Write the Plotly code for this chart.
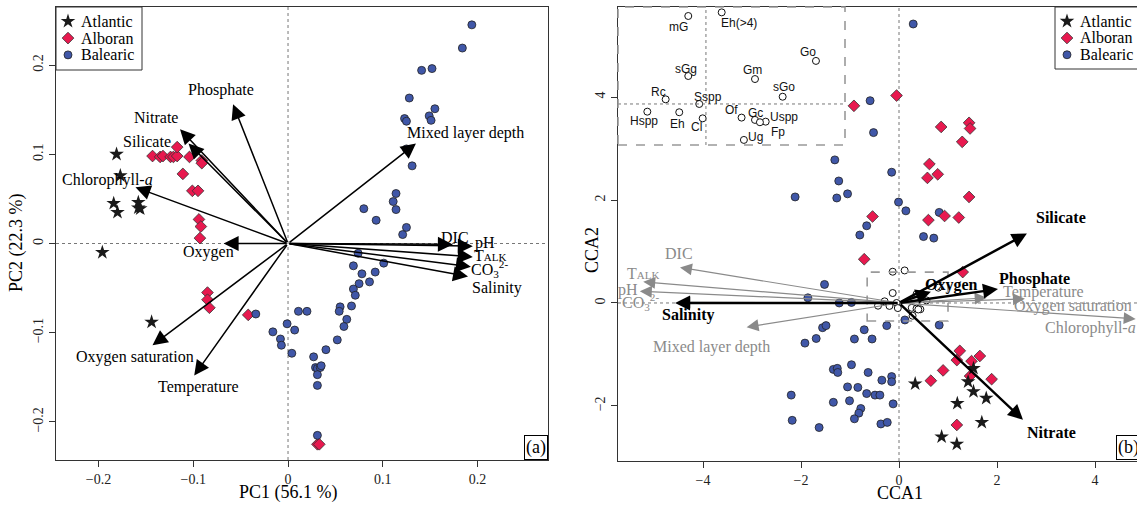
import plotly.graph_objects as go

W, H = 1137, 508
SERIF = "Liberation Serif"
SANS = "Liberation Sans"

# ---------------- Panel (a): PCA ----------------
atl_a_x = [-0.181, -0.177, -0.184, -0.180, -0.158, -0.158, -0.156, -0.196, -0.144]
atl_a_y = [0.100, 0.076, 0.045, 0.035, 0.046, 0.040, 0.039, -0.010, -0.088]

alb_a_x = [-0.143, -0.135, -0.132, -0.124, -0.121, -0.117, -0.117, -0.104, -0.091, -0.091,
           -0.111, -0.101, -0.095, -0.094, -0.092, -0.093, -0.085, -0.085, -0.083, -0.042,
           0.031, 0.033]
alb_a_y = [0.098, 0.097, 0.098, 0.097, 0.097, 0.098, 0.108, 0.097, 0.093, 0.090,
           0.078, 0.059, 0.059, 0.027, 0.019, 0.006, -0.055, -0.063, -0.072, -0.080,
           -0.225, -0.225]

bal_a_x = [0.194, 0.184, 0.141, 0.152, 0.128, 0.155, 0.123, 0.125, 0.149, 0.151,
           0.125, 0.131, 0.114, 0.111, 0.114, 0.080, 0.093, 0.125, 0.121,
           0.074, 0.069, 0.078, 0.092, 0.101, 0.075, 0.086, 0.069, 0.071, 0.067,
           0.055, 0.054, 0.062, 0.059, 0.011, 0.020, -0.001, 0.007, -0.008, -0.007,
           0.004, 0.052, 0.040, 0.027, 0.029, 0.031, 0.034, 0.035, 0.031, 0.031,
           0.031, -0.034, -0.016]
bal_a_y = [0.245, 0.219, 0.194, 0.196, 0.163, 0.151, 0.140, 0.137, 0.143, 0.138,
           0.106, 0.087, 0.056, 0.047, 0.038, 0.039, 0.026, 0.018, 0.010,
           -0.011, -0.025, -0.034, -0.032, -0.022, -0.045, -0.043, -0.051, -0.058, -0.070,
           -0.071, -0.076, -0.085, -0.093, -0.076, -0.076, -0.090, -0.097, -0.107, -0.114,
           -0.123, -0.108, -0.119, -0.127, -0.139, -0.140, -0.139, -0.137, -0.147, -0.159,
           -0.215, -0.079, -0.099]

pca_vars = ["Phosphate", "Nitrate", "Silicate", "Chlorophyll-<i>a</i>", "Oxygen",
            "Oxygen saturation", "Temperature", "Mixed layer depth", "DIC", "pH",
            "T<span style='font-size:11px'>ALK</span>", "CO<sub>3</sub><sup>2-</sup>", "Salinity"]
pca_tip_x = [-0.058, -0.114, -0.105, -0.161, -0.068, -0.143, -0.099, 0.135, 0.174, 0.195, 0.195, 0.193, 0.190]
pca_tip_y = [0.156, 0.128, 0.112, 0.063, 0.000, -0.114, -0.148, 0.112, -0.001, -0.003, -0.015, -0.026, -0.037]
pca_lab_x = [-0.071, -0.139, -0.149, -0.191, -0.084, -0.161, -0.095, 0.187, 0.176, 0.208, 0.213, 0.213, 0.221]
pca_lab_y = [0.172, 0.141, 0.114, 0.071, -0.010, -0.127, -0.161, 0.124, 0.007, 0.001, -0.013, -0.029, -0.050]

# ---------------- Panel (b): CCA ----------------
atl_b_x = [0.33, 1.19, 0.87, 1.18, 1.41, 1.52, 1.52, 1.78, 1.69]
atl_b_y = [-1.57, -1.95, -2.60, -2.74, -1.53, -1.27, -1.72, -1.85, -2.32]

alb_b_x = [-0.05, 0.86, 1.43, 1.45, 1.29, 0.62, 0.58, 0.79, 1.43, -0.54, 0.60, 0.93, 1.22,
           -0.92, -0.71, 1.30, 1.24, 1.18, 1.48, 1.65, 0.90, 0.65, 1.45, 1.89, 1.18]
alb_b_y = [4.03, 3.42, 3.50, 3.39, 3.13, 2.70, 2.43, 2.50, 2.06, 1.68, 1.61, 1.69, 1.66,
           3.83, 0.85, 0.60, -0.93, -1.11, -1.13, -1.03, -1.31, -1.51, -1.42, -1.48, -2.37]

bal_b_x = [0.29, -0.59, -0.52, -1.31, -1.23, -2.12, -1.27, -1.05, -0.15, -0.01, 0.14, 0.82,
           -0.66, -0.80, 0.50, 0.71, -1.52, -1.86, -1.22, -0.97, -1.56, -1.49, -1.69, -1.92,
           -0.91, -0.71, -0.55, 0.12, -0.25, 0.82, -0.63, -0.35, -0.15, -0.15, -0.66, -0.49,
           -0.39, -0.12, -0.37, -0.24, -2.20, -2.18, -1.63, -1.34, -1.26, -1.25, -0.97, -1.05,
           -0.84, -1.34, -1.01, -0.78, -0.82, -0.91]
bal_b_y = [5.42, 3.93, 3.31, 2.78, 2.37, 2.06, 2.04, 2.12, 2.54, 1.96, 1.79, 1.76,
           1.50, 1.32, 1.29, 1.26, 0.36, 0.10, 0.00, 0.01, -0.48, -0.44, -0.69, -0.78,
           -0.70, -0.52, -0.70, -0.33, -0.44, -0.43, -1.35, -1.50, -1.43, -1.53, -1.76, -1.79,
           -1.79, -1.96, -2.35, -2.32, -1.79, -2.28, -2.42, -1.29, -1.27, -1.35, -1.20, -1.63,
           -1.64, -1.93, -1.90, -2.05, -2.14, -2.25]

species = ["mG", "Eh(>4)", "Go", "sGg", "Gm", "sGo", "Rc", "Sspp", "Hspp", "Eh", "Cl",
           "Of", "Gc", "Uspp", "Fp", "Ug"]
sp_x = [-0.129, 0.115, 0.803, -0.129, 0.358, 0.560, -0.294, -0.049, -0.428, -0.195, -0.024,
        0.260, 0.358, 0.436, 0.394, 0.277]
sp_y = [0.607, 0.632, 0.297, 0.193, 0.172, 0.050, 0.032, 0.000, -0.053, -0.057, -0.099,
        -0.094, -0.110, -0.122, -0.126, -0.248]
sp_lab_x = [-0.202, 0.241, 0.745, -0.146, 0.343, 0.569, -0.343, 0.012, -0.453, -0.207, -0.066,
            0.188, 0.363, 0.569, 0.523, 0.365]
sp_lab_y = [0.533, 0.559, 0.359, 0.241, 0.234, 0.117, 0.083, 0.050, -0.115, -0.140, -0.161,
            -0.041, -0.060, -0.092, -0.191, -0.226]

# gray (non-significant) environmental vectors
cca_gray = ["DIC", "T<span style='font-size:11px'>ALK</span>", "pH", "CO<sub>3</sub><sup>2-</sup>",
            "Mixed layer depth", "Temperature", "Oxygen saturation", "Chlorophyll-<i>a</i>"]
cca_gray_tip_x = [-4.47, -5.22, -5.29, -4.50, -3.11, 1.79, 2.57, 4.83]
cca_gray_tip_y = [0.69, 0.41, 0.23, 0.01, -0.47, 0.10, 0.08, -0.31]
cca_gray_lab_x = [-4.49, -5.22, -5.53, -5.27, -3.82, 2.94, 3.55, 3.90]
cca_gray_lab_y = [0.97, 0.58, 0.25, 0.02, -0.85, 0.21, -0.06, -0.49]

# black (significant) environmental vectors
cca_black = ["Silicate", "Phosphate", "Oxygen", "Nitrate", "Salinity"]
cca_black_tip_x = [2.61, 2.02, 0.65, 2.53, -4.57]
cca_black_tip_y = [1.35, 0.27, 0.22, -2.27, 0.00]
cca_black_lab_x = [3.31, 2.76, 1.08, 3.12, -4.31]
cca_black_lab_y = [1.67, 0.47, 0.35, -2.52, -0.23]

regions = ["Atlantic", "Alboran", "Balearic"]

# ---------------- styles ----------------
atl_m = dict(symbol="star", size=11, color="#1a1a1a", line=dict(width=0))
alb_m = dict(symbol="diamond", size=9, color="#E8194F", line=dict(width=0.8, color="#333333"))
bal_m = dict(symbol="circle", size=8, color="#4057A8", line=dict(width=0.8, color="#222222"))
sp_m = dict(symbol="circle", size=7, color="white", line=dict(width=1, color="#111111"))
reg_m = [atl_m, alb_m, bal_m]

fig = go.Figure()

# panel a points
fig.add_trace(go.Scatter(x=atl_a_x, y=atl_a_y, mode="markers", marker=atl_m, name="Atlantic",
                         xaxis="x", yaxis="y", showlegend=False))
fig.add_trace(go.Scatter(x=alb_a_x, y=alb_a_y, mode="markers", marker=alb_m, name="Alboran",
                         xaxis="x", yaxis="y", showlegend=False))
fig.add_trace(go.Scatter(x=bal_a_x, y=bal_a_y, mode="markers", marker=bal_m, name="Balearic",
                         xaxis="x", yaxis="y", showlegend=False))

# panel b points
fig.add_trace(go.Scatter(x=bal_b_x, y=bal_b_y, mode="markers", marker=bal_m, name="Balearic",
                         xaxis="x2", yaxis="y2", showlegend=False))
fig.add_trace(go.Scatter(x=alb_b_x, y=alb_b_y, mode="markers", marker=alb_m, name="Alboran",
                         xaxis="x2", yaxis="y2", showlegend=False))
fig.add_trace(go.Scatter(x=atl_b_x, y=atl_b_y, mode="markers", marker=atl_m, name="Atlantic",
                         xaxis="x2", yaxis="y2", showlegend=False))
# species near origin (main scale)
fig.add_trace(go.Scatter(x=sp_x, y=sp_y, mode="markers", marker=sp_m, showlegend=False,
                         xaxis="x2", yaxis="y2"))
# species in inset (magnified)
fig.add_trace(go.Scatter(x=sp_x, y=sp_y, mode="markers", marker=sp_m, showlegend=False,
                         xaxis="x3", yaxis="y3"))

# manual legends (key axes: one row per region)
for xa, ya in [("x4", "y4"), ("x5", "y5")]:
    for i, nm in enumerate(regions):
        fig.add_trace(go.Scatter(x=[0], y=[i], mode="markers", marker=reg_m[i], showlegend=False,
                                 xaxis=xa, yaxis=ya))

ann = []
shapes = []

def arrow(x, y, xr, yr, color, width, size):
    return dict(x=x, y=y, ax=0, ay=0, xref=xr, yref=yr, axref=xr, ayref=yr, text="",
                showarrow=True, arrowhead=2, arrowsize=size, arrowwidth=width,
                arrowcolor=color, standoff=0, startstandoff=0)

def label(t, x, y, xr, yr, color="black", size=16, family=SERIF, bold=False, xanchor="center"):
    txt = "<b>%s</b>" % t if bold else t
    return dict(x=x, y=y, xref=xr, yref=yr, text=txt, showarrow=False,
                font=dict(family=family, size=size, color=color), xanchor=xanchor, yanchor="middle")

for i, v in enumerate(pca_vars):
    ann.append(arrow(pca_tip_x[i], pca_tip_y[i], "x", "y", "black", 1.5, 2.0))
    ann.append(label(v, pca_lab_x[i], pca_lab_y[i], "x", "y"))

for i, v in enumerate(cca_gray):
    ann.append(arrow(cca_gray_tip_x[i], cca_gray_tip_y[i], "x2", "y2", "#8a8a8a", 1.2, 2.0))
    ann.append(label(v, cca_gray_lab_x[i], cca_gray_lab_y[i], "x2", "y2", color="#8a8a8a"))
for i, v in enumerate(cca_black):
    ann.append(arrow(cca_black_tip_x[i], cca_black_tip_y[i], "x2", "y2", "black", 2.5, 1.2))
    ann.append(label(v, cca_black_lab_x[i], cca_black_lab_y[i], "x2", "y2", bold=True))

for i, s in enumerate(species):
    ann.append(label(s, sp_lab_x[i], sp_lab_y[i], "x3", "y3", size=12, family=SANS, color="#111111"))

# legend texts
for xa, ya in [("x4", "y4"), ("x5", "y5")]:
    for i, nm in enumerate(regions):
        ann.append(label(nm, 0.55, i, xa, ya, xanchor="left"))

# panel tags
ann.append(dict(x=548 / W, y=1 - 460 / H, xref="paper", yref="paper", xanchor="right", yanchor="bottom",
                text="(a)", showarrow=False, bordercolor="black", borderwidth=1, borderpad=1,
                bgcolor="white", font=dict(family=SERIF, size=18, color="black")))
ann.append(dict(x=1116 / W, y=1 - 460 / H, xref="paper", yref="paper", xanchor="left", yanchor="bottom",
                text="(b)", showarrow=False, bordercolor="black", borderwidth=1, borderpad=1,
                bgcolor="white", font=dict(family=SERIF, size=18, color="black")))

# axis titles
tf = dict(family=SERIF, size=18, color="black")
def title(t, px, py, angle=0):
    return dict(x=px / W, y=1 - py / H, xref="paper", yref="paper", text=t, showarrow=False,
                font=tf, textangle=angle, xanchor="center", yanchor="middle")
ann.append(title("PC1 (56.1 %)", 288, 492))
ann.append(title("PC2 (22.3 %)", 16, 243, -90))
ann.append(title("CCA1", 900, 493))
ann.append(title("CCA2", 592, 250, -90))

dot = dict(color="#777777", width=1, dash="dot")
# legend boxes
shapes.append(dict(type="rect", xref="paper", yref="paper", x0=56 / W, x1=142 / W, y0=1 - 70 / H, y1=1 - 7 / H,
                   line=dict(color="#333333", width=1), fillcolor="white", layer="below"))
shapes.append(dict(type="rect", xref="paper", yref="paper", x0=1055 / W, x1=1140 / W, y0=1 - 69 / H, y1=1 - 7 / H,
                   line=dict(color="#333333", width=1), fillcolor="white", layer="below"))
# zero lines panel a
shapes.append(dict(type="line", xref="x", yref="y domain", x0=0, x1=0, y0=0, y1=1, line=dot, layer="below"))
shapes.append(dict(type="line", xref="x domain", yref="y", x0=0, x1=1, y0=0, y1=0, line=dot, layer="below"))
# zero lines panel b
shapes.append(dict(type="line", xref="x2", yref="y2 domain", x0=0, x1=0, y0=0, y1=1, line=dot, layer="below"))
shapes.append(dict(type="line", xref="x2 domain", yref="y2", x0=0, x1=1, y0=0, y1=0, line=dot, layer="below"))
# zero lines inset
shapes.append(dict(type="line", xref="x3", yref="y3 domain", x0=0, x1=0, y0=0, y1=1, line=dot))
shapes.append(dict(type="line", xref="x3 domain", yref="y3", x0=0, x1=1, y0=0, y1=0, line=dot))
# inset boxes
dash = dict(color="#999999", width=1.6, dash="dash")
shapes.append(dict(type="rect", xref="x3 domain", yref="y3 domain", x0=0, x1=1, y0=0, y1=1, line=dash))
shapes.append(dict(type="rect", xref="x2", yref="y2", x0=-0.65, x1=1.0, y0=-0.35, y1=0.60, line=dash))

tickf = dict(family=SERIF, size=14, color="#222222")
common = dict(showline=True, mirror=True, linecolor="#333333", linewidth=1.3, ticks="outside",
              ticklen=6, tickcolor="#333333", showgrid=False, zeroline=False, tickfont=tickf)
hidden = dict(visible=False, showgrid=False, zeroline=False)

fig.update_layout(
    width=W, height=H, autosize=False, showlegend=False,
    margin=dict(l=0, r=0, t=0, b=0),
    paper_bgcolor="white", plot_bgcolor="rgba(0,0,0,0)",
    xaxis=dict(domain=[56 / W, 548 / W], range=[-0.2449, 0.2744],
               tickvals=[-0.2, -0.1, 0, 0.1, 0.2],
               ticktext=["\u22120.2", "\u22120.1", "0", "0.1", "0.2"], **common),
    yaxis=dict(domain=[1 - 460 / H, 1 - 7 / H], range=[-0.2426, 0.265],
               tickvals=[-0.2, -0.1, 0, 0.1, 0.2],
               ticktext=["\u22120.2", "\u22120.1", "0", "0.1", "0.2"], tickangle=-90, **common),
    xaxis2=dict(domain=[618 / W, 1.0], range=[-5.735, 4.857], anchor="y2",
                tickvals=[-4, -2, 0, 2, 4], ticktext=["\u22124", "\u22122", "0", "2", "4"], **common),
    yaxis2=dict(domain=[1 - 461 / H, 1 - 7 / H], range=[-3.07, 5.75], anchor="x2",
                tickvals=[-2, 0, 2, 4], ticktext=["\u22122", "0", "2", "4"], tickangle=-90, **common),
    xaxis3=dict(domain=[618 / W, 845 / W], range=[-0.642, 1.015], anchor="y3", **hidden),
    yaxis3=dict(domain=[1 - 145 / H, 1 - 7 / H], range=[-0.283, 0.669], anchor="x3", **hidden),
    # legend key axes (panel a: box 56-142 px, panel b: box 1055-1137 px)
    xaxis4=dict(domain=[56 / W, 142 / W], range=[-0.6, 3.7], anchor="y4", **hidden),
    yaxis4=dict(domain=[1 - 70 / H, 1 - 7 / H], range=[2.9, -0.85], anchor="x4", **hidden),
    xaxis5=dict(domain=[1055 / W, 1.0], range=[-0.6, 3.5], anchor="y5", **hidden),
    yaxis5=dict(domain=[1 - 69 / H, 1 - 7 / H], range=[2.85, -0.85], anchor="x5", **hidden),
    annotations=ann, shapes=shapes,
)

fig.write_html("out.html", config={"displayModeBar": False, "staticPlot": True},
               post_script="document.body.style.margin='0px';document.body.style.padding='0px';")
